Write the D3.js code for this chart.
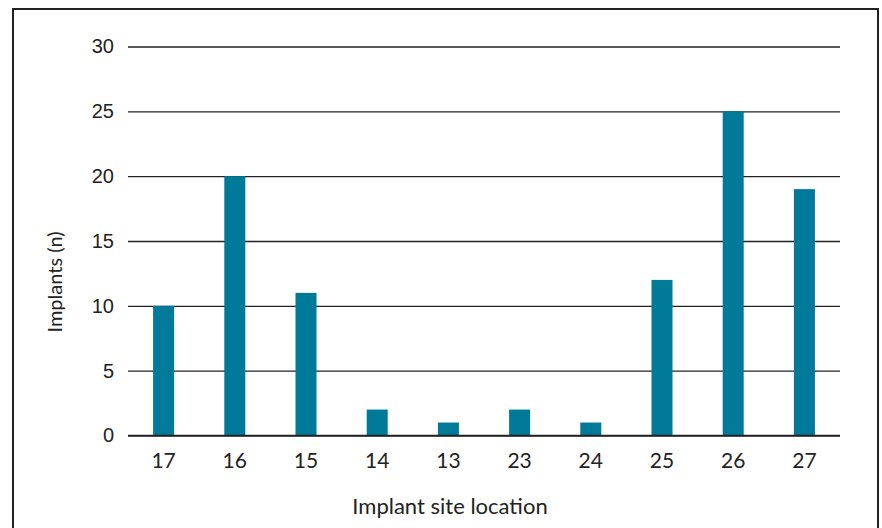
<!DOCTYPE html>
<html><head><meta charset="utf-8">
<script src="https://cdn.jsdelivr.net/npm/d3@7"></script>
<style>body{margin:0;background:#fff}</style>
</head><body>
<svg id="c" width="882" height="528"></svg>
<script>
const categories = ["17","16","15","14","13","23","24","25","26","27"];
const values = [10,20,11,2,1,2,1,12,25,19];
const yTicks = [0,5,10,15,20,25,30];

const svg = d3.select("#c");
svg.append("rect").attr("x",13).attr("y",9).attr("width",865).attr("height",540)
  .attr("fill","none").attr("stroke","#222").attr("stroke-width",2);

const x = d3.scaleBand().domain(categories).range([128,840]).paddingInner(0.705).paddingOuter(0.3525);
const y = d3.scaleLinear().domain([0,30]).range([435.5,46.5]);

const yAxis = svg.append("g").attr("transform","translate(128,0)")
  .call(d3.axisLeft(y).tickValues(yTicks).tickSize(-712).tickPadding(14));
yAxis.select(".domain").remove();
yAxis.selectAll("line").attr("stroke","#222").attr("stroke-width",1.4);
yAxis.selectAll("text").attr("font-family","Liberation Sans, Arial, sans-serif").attr("font-size",20).attr("fill","#222");

svg.selectAll("rect.bar").data(values).join("rect").attr("class","bar")
  .attr("x",(d,i)=>x(categories[i])).attr("width",x.bandwidth())
  .attr("y",d=>y(d)).attr("height",d=>y(0)-y(d)).attr("fill","#017a99");

svg.append("line").attr("x1",128).attr("x2",840).attr("y1",y(0)).attr("y2",y(0)).attr("stroke","#222").attr("stroke-width",1.4);

const xAxis = svg.append("g").attr("transform",`translate(0,${y(0)})`)
  .call(d3.axisBottom(x).tickSize(0));
xAxis.select(".domain").remove();
xAxis.selectAll("text").attr("y",32.5).attr("dy",0)
  .attr("font-family","Lato, sans-serif").attr("font-size",21).attr("fill","#222");

svg.append("text").attr("x",450).attr("y",514).attr("text-anchor","middle")
  .attr("font-family","Lato, sans-serif").attr("font-size",22).attr("fill","#222").text("Implant site location");
svg.append("text").attr("transform","translate(62,282) rotate(-90)").attr("text-anchor","middle")
  .attr("font-family","Lato, sans-serif").attr("font-size",20).attr("fill","#222").text("Implants (n)");
</script>
</body></html>
